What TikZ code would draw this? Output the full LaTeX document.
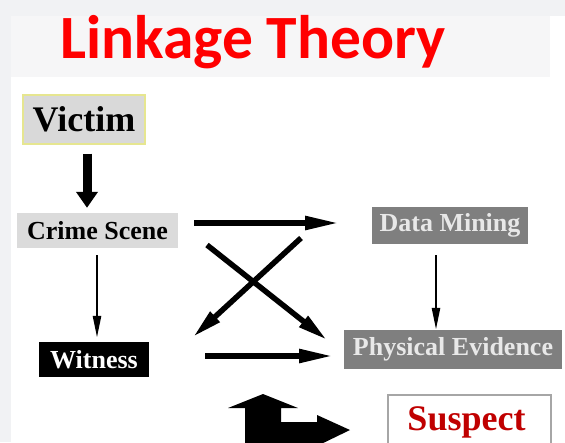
\documentclass[tikz,border=0pt]{standalone}
\usepackage{fontspec}
\setmainfont{Liberation Serif}
\newfontfamily\titlefont{Carlito}
\usetikzlibrary{arrows.meta,calc}
\definecolor{bgout}{HTML}{F1F2F4}
\definecolor{titleband}{HTML}{F6F6F7}
\definecolor{titlered}{HTML}{FF0000}
\definecolor{suspectred}{HTML}{C00000}
\definecolor{lightbox}{HTML}{D9D9D9}
\definecolor{paleyellow}{HTML}{E6E690}
\definecolor{darkbox}{HTML}{7F7F7F}
\definecolor{darkboxtext}{HTML}{E8E8E8}
\definecolor{suspectborder}{HTML}{A6A6A6}
\begin{document}
\begin{tikzpicture}[x=1pt,y=-1pt,
  boxtext/.style={font=\bfseries\fontsize{26}{30}\selectfont, inner sep=0pt, align=center},
  lightnode/.style={boxtext, fill=lightbox, text=black},
  darknode/.style={boxtext, fill=darkbox, text=darkboxtext},
  blacknode/.style={boxtext, fill=black, text=white},
  fatarrow/.style={line width=9pt, -{Triangle[length=16pt,width=21pt]}},
  thickarrow/.style={line width=5.5pt, -{Triangle[length=34pt,width=13pt]}},
  thinarrow/.style={line width=2.5pt, -{Triangle[length=22pt,width=8pt]}},
  bentarrow/.style={fill=black, draw=none}
]
\useasboundingbox (0,0) rectangle (565,442);
\begin{scope}
\clip (0,0) rectangle (565,442);
% background
\fill[bgout] (0,0) rectangle (565,442);
\fill[white] (11,16) rectangle (565,442);
\fill[titleband] (11,16) rectangle (550,77);
% title
\node[anchor=base west, inner sep=0pt, text=titlered, font=\titlefont\bfseries\fontsize{61.5}{72}\selectfont] (title) at (60,58) {Linkage Theory};
% boxes
\node[lightnode, draw=paleyellow, line width=1.3pt, minimum width=122pt, minimum height=49pt, font=\bfseries\fontsize{36}{40}\selectfont] (victim) at (84,119.5) {Victim};
\node[lightnode, fill=lightbox!95!white, minimum width=161pt, minimum height=35pt] (crime) at (97.5,230.5) {Crime Scene};
\node[blacknode, minimum width=110pt, minimum height=35pt] (witness) at (94,359.5) {Witness};
\node[darknode, minimum width=156pt, minimum height=37pt] (data) at (450,225.5) {Data Mining};
\node[darknode, minimum width=218pt, minimum height=39pt] (phys) at (453,349.5) {Physical Evidence};
\node[boxtext, fill=white, draw=suspectborder, line width=1.2pt, text=suspectred, minimum width=163pt, minimum height=54pt, font=\bfseries\fontsize{36}{42}\selectfont] (suspect) at (469.5,422) {\hspace*{-6pt}Suspect};
% connector end points
\coordinate (cdS) at (194,223);
\coordinate (cdE) at (339,223);
\coordinate (cpS) at (207,245);
\coordinate (cpE) at (327,340);
\coordinate (dwS) at (301,238);
\coordinate (dwE) at (193,337);
\coordinate (wpS) at (205,356);
\coordinate (wpE) at (333,356);
% arrows
\draw[fatarrow, shorten <=9pt, shorten >=5pt] ([xshift=3pt]victim.south) -- ([xshift=3pt]victim.south |- crime.north);
\draw[thinarrow, shorten <=7pt, shorten >=4pt] ([xshift=-0.5pt]crime.south) -- ([xshift=-0.5pt]crime.south |- witness.north);
\draw[thinarrow, shorten <=11pt, shorten >=0pt] ([xshift=-14pt]data.south) -- ([xshift=-14pt]data.south |- phys.north);
\draw[thickarrow] (cdS) -- (cdE);
\draw[thickarrow, -{Triangle[length=30pt,width=13pt]}] (cpS) -- (cpE);
\draw[thickarrow, -{Triangle[length=30pt,width=13pt]}] (dwS) -- (dwE);
\draw[thickarrow] (wpS) -- (wpE);
% bent double arrow
\fill[bentarrow] (263,394) -- (298,408) -- (281,408) -- (281,422) -- (317,422) -- (317,415) -- (350,430) -- (317,446) -- (317,450) -- (245,450) -- (245,408) -- (228,408) -- cycle;
\end{scope}
\end{tikzpicture}
\end{document}
